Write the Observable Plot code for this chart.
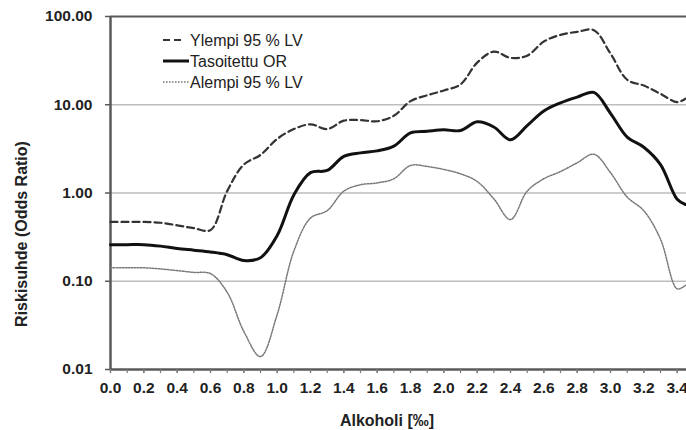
<!DOCTYPE html>
<html>
<head>
<meta charset="utf-8">
<script src="https://cdn.jsdelivr.net/npm/d3@7"></script>
<script src="https://cdn.jsdelivr.net/npm/@observablehq/plot@0.6"></script>
<style>
  html, body { margin: 0; padding: 0; background: #fff; }
  svg { display: block; }
</style>
</head>
<body>
<div id="chart"></div>
<script>
// Alcohol level (‰)
const alkoholi = [0.0,0.1,0.2,0.3,0.4,0.5,0.6,0.7,0.8,0.9,1.0,1.1,1.2,1.3,1.4,1.5,1.6,1.7,1.8,1.9,2.0,2.1,2.2,2.3,2.4,2.5,2.6,2.7,2.8,2.9,3.0,3.1,3.2,3.3,3.4,3.45];
// Upper 95 % CI
const ylempi = [0.47,0.47,0.47,0.46,0.43,0.40,0.38,1.05,2.1,2.7,4.1,5.3,6.0,5.3,6.6,6.7,6.5,7.5,11.0,12.8,14.5,17,30,40,34,36,52,62,67,70,38,19.2,16.5,13.3,10.7,11.7];
// Adjusted OR
const tasoitettu = [0.26,0.26,0.26,0.25,0.235,0.225,0.215,0.20,0.172,0.185,0.33,0.95,1.7,1.8,2.6,2.85,3.0,3.4,4.8,5.0,5.2,5.1,6.4,5.6,4.0,5.8,8.5,10.5,12.2,13.8,8.0,4.3,3.3,2.1,0.85,0.74];
// Lower 95 % CI
const alempi = [0.142,0.142,0.142,0.138,0.132,0.126,0.122,0.075,0.027,0.014,0.042,0.22,0.52,0.63,1.05,1.24,1.30,1.45,2.05,2.0,1.85,1.65,1.35,0.86,0.50,1.05,1.45,1.75,2.2,2.75,1.7,0.9,0.63,0.30,0.082,0.09];

const seriesNames = ["Ylempi 95 % LV", "Tasoitettu OR", "Alempi 95 % LV"];
const yTicks = [0.01, 0.1, 1, 10, 100];
const xTickLabels = [0.0,0.2,0.4,0.6,0.8,1.0,1.2,1.4,1.6,1.8,2.0,2.2,2.4,2.6,2.8,3.0,3.2,3.4];
const xMinorTicks = [0.0,0.1,0.2,0.3,0.4,0.5,0.6,0.7,0.8,0.9,1.0,1.1,1.2,1.3,1.4,1.5,1.6,1.7,1.8,1.9,2.0,2.1,2.2,2.3,2.4,2.5,2.6,2.7,2.8,2.9,3.0,3.1,3.2,3.3,3.4];
const xLabel = "Alkoholi [‰]";
const yLabel = "Riskisuhde (Odds Ratio)";

const rows = (ys) => alkoholi.map((x, i) => ({x, y: ys[i]}));
const upper = rows(ylempi), main = rows(tasoitettu), lower = rows(alempi);

const FONT = "'Liberation Sans', Arial, sans-serif";
const W = 686, H = 430;
const DOT = "1.6,1.4";

const plot = Plot.plot({
  width: W,
  height: H,
  marginLeft: 110,
  marginRight: 0,
  marginTop: 16,
  marginBottom: 61,
  style: {fontFamily: FONT, background: "#fff", overflow: "visible"},
  x: {domain: [0, 3.456], label: null},
  y: {type: "log", domain: [0.01, 100], label: null},
  marks: [
    Plot.ruleY([0.1, 1, 10], {stroke: "#bdbdbd", strokeWidth: 1.5}),
    Plot.ruleY([100], {stroke: "#5a5a5a", strokeWidth: 2}),
    Plot.ruleY([0.01], {stroke: "#5a5a5a", strokeWidth: 2.5}),
    Plot.ruleX([0], {stroke: "#5a5a5a", strokeWidth: 2.5}),
    Plot.axisY({ticks: yTicks, tickFormat: d3.format(".2f"), tickSize: 5, tickPadding: 13,
      stroke: "#5a5a5a", strokeWidth: 1.5, fill: "#222", fontSize: 15.5, fontWeight: "bold", label: null}),
    Plot.axisX({ticks: xMinorTicks, tickSize: 4, text: null, stroke: "#777", strokeWidth: 1.2, label: null}),
    Plot.axisX({ticks: xTickLabels, tickSize: 4, tickPadding: 8, tickFormat: d3.format(".1f"),
      stroke: "#777", strokeWidth: 1.2, fill: "#222", fontSize: 15.5, fontWeight: "bold", label: null}),
    Plot.line(lower, {x: "x", y: "y", curve: "catmull-rom", stroke: "#7a7a7a", strokeWidth: 1.5, strokeDasharray: DOT}),
    Plot.line(upper, {x: "x", y: "y", curve: "catmull-rom", stroke: "#333", strokeWidth: 2.2, strokeDasharray: "7,4"}),
    Plot.line(main, {x: "x", y: "y", curve: "catmull-rom", stroke: "#111", strokeWidth: 3})
  ]
});

document.getElementById("chart").appendChild(plot);

// Axis titles and legend
const svg = d3.select(plot);
svg.append("text")
  .attr("x", 387).attr("y", 426)
  .attr("text-anchor", "middle")
  .attr("font-family", FONT).attr("font-size", 16).attr("font-weight", "bold").attr("fill", "#222")
  .text(xLabel);
svg.append("text")
  .attr("transform", "translate(27,234) rotate(-90)")
  .attr("text-anchor", "middle")
  .attr("font-family", FONT).attr("font-size", 16).attr("font-weight", "bold").attr("fill", "#222")
  .text(yLabel);

const legendStyles = [
  {stroke: "#333", width: 2.2, dash: "7,4", x2: 184},
  {stroke: "#111", width: 3, dash: null, x2: 189},
  {stroke: "#7a7a7a", width: 1.5, dash: DOT, x2: 189}
];
const lg = svg.append("g").attr("text-anchor", "start");
seriesNames.forEach((name, i) => {
  const cy = 40 + i * 21;
  const s = legendStyles[i];
  const l = lg.append("line").attr("x1", 163).attr("x2", s.x2).attr("y1", cy).attr("y2", cy)
    .attr("stroke", s.stroke).attr("stroke-width", s.width);
  if (s.dash) l.attr("stroke-dasharray", s.dash);
  lg.append("text").attr("x", 190).attr("y", cy + 6)
    .attr("text-anchor", "start")
    .attr("font-family", FONT).attr("font-size", 16).attr("fill", "#222")
    .text(name);
});
</script>
</body>
</html>
